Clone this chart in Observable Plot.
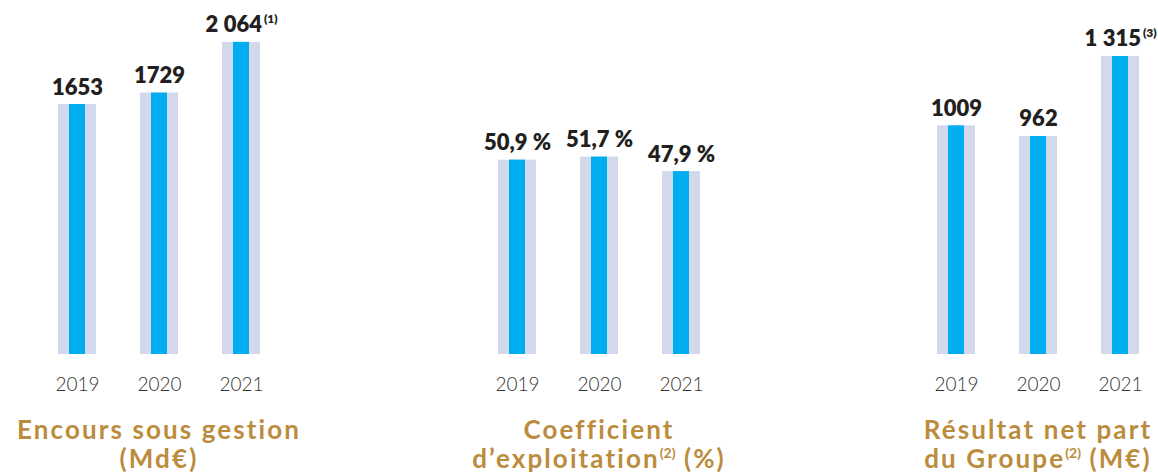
<!DOCTYPE html>
<html>
<head>
<meta charset="utf-8">
<script src="https://cdn.jsdelivr.net/npm/d3@7"></script>
<script src="https://cdn.jsdelivr.net/npm/@observablehq/plot@0.6"></script>
<style>
  html, body { margin: 0; padding: 0; background: #fff; overflow: hidden; }
  #wrap { position: relative; width: 1158px; height: 472px; overflow: hidden; }
  .panel { position: absolute; top: 0; width: 440px; }
  .title { text-align: center; font-family: Lato, "Open Sans", sans-serif; font-weight: 700;
           font-size: 26px; line-height: 29px; letter-spacing: 2.1px; color: #bb8c3e; margin-top: 5px; }
  .title sup { font-size: 14px; letter-spacing: 0; vertical-align: 0; position: relative; top: -10px; }
</style>
</head>
<body>
<div id="wrap"></div>
<script>
const years = ["2019", "2020", "2021"];

const encours = [1653, 1729, 2064];
const encoursLabels = ["1653", "1729", "2\u202f064"];
const encoursNotes = ["", "", "(1)"];

const coef = [50.9, 51.7, 47.9];
const coefLabels = ["50,9\u00a0%", "51,7\u00a0%", "47,9\u00a0%"];
const coefNotes = ["", "", ""];

const resultat = [1009, 962, 1315];
const resultatLabels = ["1009", "962", "1\u202f315"];
const resultatNotes = ["", "", "(3)"];

const panels = [
  {center: 159, yMax: 2341, values: encours, labels: encoursLabels, notes: encoursNotes,
   title: "Encours sous gestion<br>(Md€)"},
  {center: 599, yMax: 92.7, values: coef, labels: coefLabels, notes: coefNotes,
   title: "Coefficient<br>d’exploitation<sup>(2)</sup> (%)"},
  {center: 1038, yMax: 1562, values: resultat, labels: resultatLabels, notes: resultatNotes,
   title: "Résultat net part<br>du Groupe<sup>(2)</sup> (M€)"}
];

const wrap = document.getElementById("wrap");
const W = 440, H = 410, baseline = 354;

for (const p of panels) {
  const data = years.map((year, i) => ({
    year, value: p.values[i],
    label: p.notes[i] ? p.labels[i] + "|" + p.notes[i] : p.labels[i]
  }));
  const chart = Plot.plot({
    width: W,
    height: H,
    marginTop: 0,
    marginBottom: H - baseline,
    marginLeft: 0,
    marginRight: 0,
    style: {fontFamily: "Lato, 'Open Sans', sans-serif", overflow: "visible", background: "transparent"},
    x: {type: "band", domain: years, range: [W / 2 - 123, W / 2 + 123],
        paddingInner: 0.537, paddingOuter: 0.268, align: 0.5, axis: null},
    y: {domain: [0, p.yMax], axis: null},
    marks: [
      Plot.barY(data, {x: "year", y: "value", fill: "#d3d9ec"}),
      Plot.barY(data, {x: "year", y: "value", fill: "#00aeef", insetLeft: 11, insetRight: 11}),
      Plot.text(data, {x: "year", y: "value", text: "label", dy: -10, lineAnchor: "bottom",
                       fontSize: 22, fontWeight: 800, fill: "#231f20"}),
      Plot.axisX({tickSize: 0, tickPadding: 23, fontSize: 19, fontWeight: 300,
                  color: "#333", label: null})
    ]
  });
  // turn "main|note" labels into main text + superscript
  chart.querySelectorAll("text").forEach(t => {
    const s = t.textContent;
    if (s.includes("|")) {
      const [main, note] = s.split("|");
      t.textContent = main;
      const sp = document.createElementNS("http://www.w3.org/2000/svg", "tspan");
      sp.setAttribute("font-size", "12");
      sp.setAttribute("font-weight", "800");
      sp.setAttribute("dy", "-9");
      sp.setAttribute("dx", "2");
      sp.textContent = note;
      t.appendChild(sp);
    }
  });
  const div = document.createElement("div");
  div.className = "panel";
  div.style.left = (p.center - W / 2) + "px";
  div.appendChild(chart);
  const title = document.createElement("div");
  title.className = "title";
  title.innerHTML = p.title;
  div.appendChild(title);
  wrap.appendChild(div);
}
</script>
</body>
</html>
